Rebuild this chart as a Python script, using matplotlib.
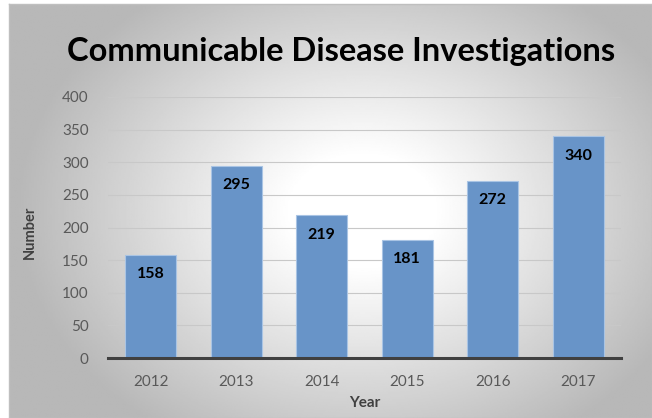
import matplotlib
matplotlib.use("Agg")
import matplotlib.pyplot as plt
import numpy as np

years = ["2012", "2013", "2014", "2015", "2016", "2017"]
counts = [158, 295, 219, 181, 272, 340]
yticks = [0, 50, 100, 150, 200, 250, 300, 350, 400]

plt.rcParams["font.family"] = ["Lato", "DejaVu Sans"]

W, H = 652, 418
fig = plt.figure(figsize=(W / 100, H / 100), dpi=100)

# radial grey-to-white background of the chart frame
bg = fig.add_axes([9 / W, 0, 1 - 9 / W, 1 - 4 / H])
yy, xx = np.mgrid[0:1:300j, 0:1:400j]
r = np.sqrt(((xx - 0.55) / 0.75) ** 2 + ((yy - 0.5) / 0.9) ** 2)
shade = np.clip(1.0 - 0.32 * np.clip(r - 0.15, 0, None) / 0.65, 0.72, 1.0)
bg.imshow(shade, cmap="gray", vmin=0, vmax=1, aspect="auto",
          extent=[0, 1, 0, 1], origin="lower")
bg.set_xticks([])
bg.set_yticks([])
for s in bg.spines.values():
    s.set_color("#bfbfbf")
    s.set_linewidth(1)

ax = fig.add_axes([108 / W, 60 / H, 513 / W, 261 / H])
ax.patch.set_alpha(0)
x = np.arange(len(years))
ax.bar(x, counts, width=0.6, color="#6894c8", edgecolor="#a9c4e4",
       linewidth=0.8, zorder=3)
for xi, v in zip(x, counts):
    ax.text(xi, v - 30, str(v), ha="center", va="center", fontsize=11.5,
            fontweight="bold", color="black", zorder=4)

ax.set_xlim(-0.5, len(years) - 0.5)
ax.set_ylim(0, 400)
ax.set_yticks(yticks)
ax.set_xticks(x)
ax.set_xticklabels(years)
ax.grid(axis="y", color="#c8c8c8", linewidth=0.8, zorder=0)
for side in ("top", "right", "left"):
    ax.spines[side].set_visible(False)
ax.spines["bottom"].set_color("#404040")
ax.spines["bottom"].set_linewidth(2.2)
ax.spines["bottom"].set_zorder(5)
ax.tick_params(length=0, labelsize=11, labelcolor="#595959")
ax.tick_params(axis="y", pad=14)
ax.tick_params(axis="x", pad=12)

ax.set_xlabel("Year", fontsize=11, fontweight="bold", color="#404040", labelpad=5)
fig.text(30 / W, 1 - 232 / H, "Number", rotation=90, fontsize=10.5,
         fontweight="bold", color="#404040", ha="center", va="center")
fig.text(341 / W, 1 - 52 / H, "Communicable Disease Investigations",
         fontsize=23.5, fontweight="bold", color="black", ha="center", va="center")

fig.savefig("out.png", dpi=100)
